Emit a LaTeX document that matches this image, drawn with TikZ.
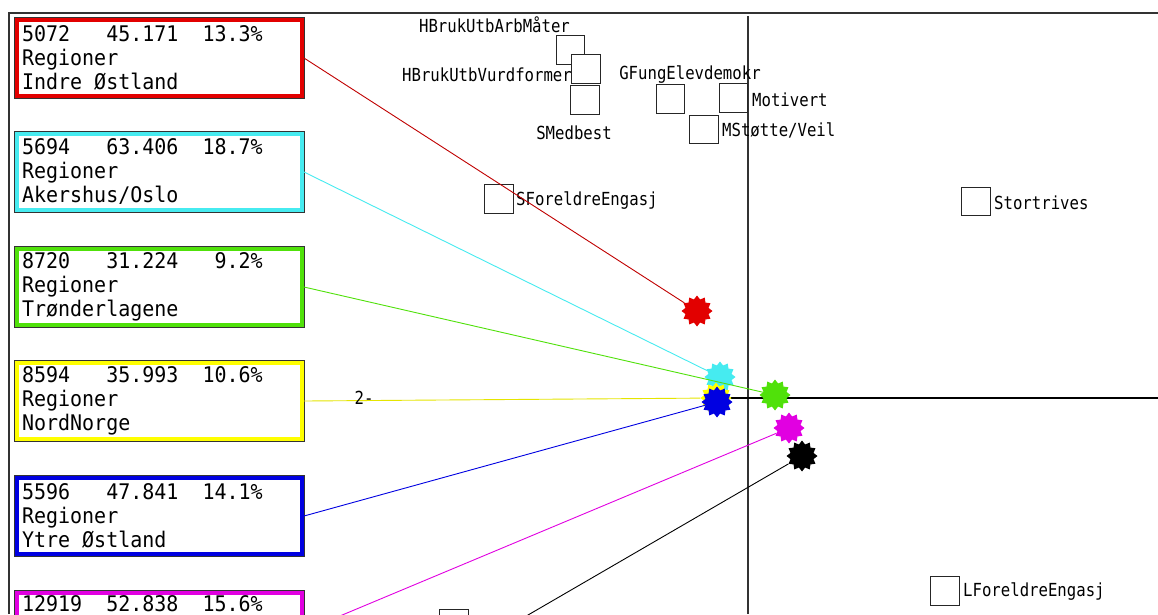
\documentclass[tikz,border=0pt]{standalone}
\usepackage{fontspec}
\usetikzlibrary{shapes.geometric}
\newfontfamily\boxfont[FakeStretch=0.93]{DejaVu Sans Mono}
\newfontfamily\labfont[FakeStretch=0.87]{DejaVu Sans Mono}
\newcommand\gap[1]{\hphantom{#1}}
\definecolor{regred}{RGB}{226,0,0}
\definecolor{regcyan}{RGB}{70,235,240}
\definecolor{reggreen}{RGB}{80,225,10}
\definecolor{regyellow}{RGB}{255,255,0}
\definecolor{regblue}{RGB}{0,0,225}
\definecolor{regmag}{RGB}{225,0,225}
\begin{document}
\begin{tikzpicture}[x=1pt, y=-1pt,
    regbox/.style={rectangle, minimum width=285pt, minimum height=76pt, inner xsep=5pt, inner ysep=0pt,
        text width=275pt, align=left, fill=white, line width=4pt,
        preaction={draw=black!80, line width=6pt}, font=\boxfont\fontsize{21.5pt}{24pt}\selectfont},
    sq/.style={draw=black!85, line width=1.3pt, fill=white, minimum size=28.5pt, inner sep=0pt},
    lab/.style={font=\labfont\fontsize{18pt}{20pt}\selectfont, inner sep=0pt},
    burst/.style={star, star points=12, star point ratio=1.3, minimum size=31pt, inner sep=0pt}]
    \fill[white] (0,0) rectangle (1158,614);
    \clip (0,0) rectangle (1158,614);
    % Frame and axes
    \draw[black!80, line width=1.5pt] (9,614) -- (9,13) -- (1158,13);
    \draw[black!80, line width=1.3pt] (748,16) -- (748,614);
    \draw[black, line width=1.3pt] (730,398) -- (1158,398);
    % Variables
    \node[sq] (sqarb) at (570.5,50) {};
    \node[lab] (labarb) at (494.5,25) {HBrukUtbArbMåter};
    \node[sq] (sqvurd) at (586,69) {};
    \node[lab] (labvurd) at (487,75) {HBrukUtbVurdformer};
    \node[sq] (sqmed) at (585,100) {};
    \node[lab] (labmed) at (574,133) {SMedbest};
    \node[sq] (sqgfung) at (670.5,99) {};
    \node[sq] (sqmot) at (733.5,98) {};
    \node[lab] (labgfung) at (690,75) {GFungElevdemokr};
    \node[lab, anchor=west] (labmot) at (752,100) {Motivert};
    \node[sq] (sqmst) at (704,129.5) {};
    \node[lab, anchor=west] (labmst) at (722,130) {MStøtte/Veil};
    \node[sq] (sqsfor) at (499,199) {};
    \node[lab, anchor=west] (labsfor) at (516,201) {SForeldreEngasj};
    \node[sq] (sqstor) at (976,201.5) {};
    \node[lab, anchor=west] (labstor) at (994,203) {Stortrives};
    \node[sq] (sqlfor) at (945,591) {};
    \node[lab, anchor=west] (lablfor) at (963,592) {LForeldreEngasj};
    \node[sq] (sqbot) at (454,624) {};
    % Regions
    \node[regbox, draw=regred] (indre) at (159.5,58) {5072\gap{000}45.171\gap{00}13.3\%\\Regioner\\Indre\gap{0}Østland};
    \node[regbox, draw=regcyan] (akers) at (159.5,172) {5694\gap{000}63.406\gap{00}18.7\%\\Regioner\\Akershus/Oslo};
    \node[regbox, draw=reggreen] (trond) at (159.5,287) {8720\gap{000}31.224\gap{000}9.2\%\\Regioner\\Trønderlagene};
    \node[regbox, draw=regyellow] (nord) at (159.5,401) {8594\gap{000}35.993\gap{00}10.6\%\\Regioner\\NordNorge};
    \node[regbox, draw=regblue] (ytre) at (159.5,516) {5596\gap{000}47.841\gap{00}14.1\%\\Regioner\\Ytre\gap{0}Østland};
    \node[regbox, draw=regmag] (mag) at (159.5,631) {12919\gap{00}52.838\gap{00}15.6\%\\\strut\\\strut};
    % Category points
    \node[burst, fill=regred] (sindre) at (697,311) {};
    \node[burst, fill=regcyan] (sakers) at (720,377) {};
    \node[burst, fill=reggreen] (strond) at (775,395) {};
    \node[burst, fill=regyellow] (snord) at (716,398) {};
    \node[burst, fill=regblue] (sytre) at (717,402) {};
    \node[burst, fill=regmag] (smag) at (789,428) {};
    \node[burst, fill=black] (sblack) at (802,456) {};
    \coordinate (blackend) at (304,745);
    % Connectors
    \draw[regred!85!black, line width=0.9pt] (indre.east) -- (sindre);
    \draw[regcyan, line width=0.9pt] (akers.east) -- (sakers);
    \draw[reggreen, line width=0.9pt] (trond.east) -- (strond);
    \draw[regyellow!90!black, line width=0.9pt] (nord.east) -- (snord);
    \draw[regblue, line width=0.9pt] (ytre.east) -- (sytre);
    \draw[regmag, line width=0.9pt] (mag.east) -- (smag);
    \draw[black, line width=0.9pt] (sblack) -- (blackend);
    \node[lab] (two) at (364,398) {2-};
\end{tikzpicture}
\end{document}
